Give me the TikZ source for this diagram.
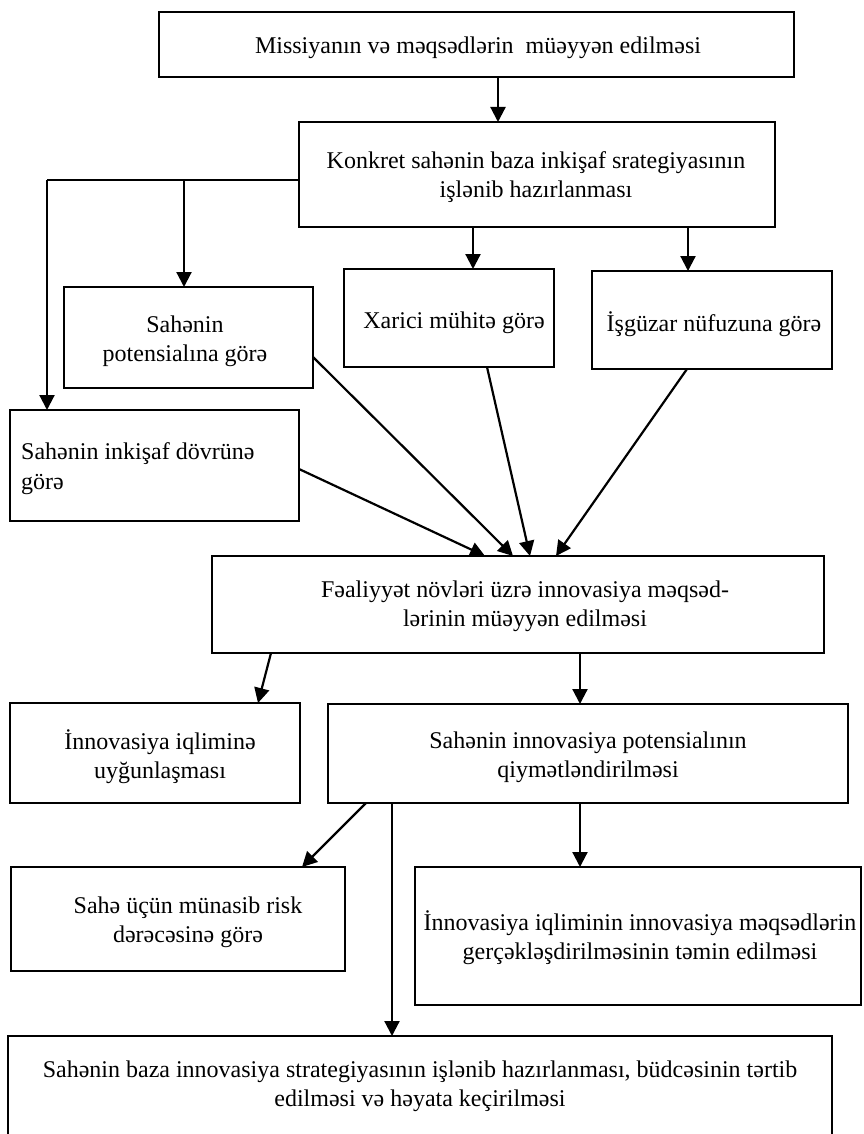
\documentclass[tikz,border=0pt]{standalone}
\usepackage{fontspec}
\setmainfont{Liberation Serif}
\usetikzlibrary{arrows.meta,fit}
\begin{document}
\begin{tikzpicture}[x=1pt,y=-1pt,
  bx/.style={draw, line width=2.4pt, inner sep=0pt, outer sep=0pt},
  txt/.style={font=\fontsize{24}{29}\selectfont, align=center, inner sep=0pt},
  txtl/.style={font=\fontsize{24}{30}\selectfont, align=left, inner sep=0pt},
  arr/.style={line width=2.2pt, -{Triangle[length=15pt,width=15pt]}},
  ln/.style={line width=2.2pt}]
\useasboundingbox (0,0) rectangle (863,1134);
\clip (0,0) rectangle (863,1134);
% boxes
\node[bx, fit={(159,12) (794,77)}] (b1) {};
\node[bx, fit={(299,122) (775,227)}] (b2) {};
\node[bx, fit={(64,287) (313,388)}] (b3) {};
\node[bx, fit={(344,269) (554,367)}] (b4) {};
\node[bx, fit={(592,271) (832,369)}] (b5) {};
\node[bx, fit={(10,410) (299,521)}] (b6) {};
\node[bx, fit={(212,556) (824,653)}] (b7) {};
\node[bx, fit={(10,703) (300,803)}] (b8) {};
\node[bx, fit={(328,704) (848,803)}] (b9) {};
\node[bx, fit={(11,867) (345,971)}] (b10) {};
\node[bx, fit={(415,867) (861,1005)}] (b11) {};
\node[bx, fit={(8,1036) (832,1150)}] (b12) {};
% texts
\node[txt] (t1) at (478,47.4) {Missiyanın və məqsədlərin \ müəyyən edilməsi};
\node[txt] (t2) at (536,177) {Konkret sahənin baza inkişaf srategiyasının\\işlənib hazırlanması};
\node[txt] (t3) at (185,341) {Sahənin\\potensialına görə};
\node[txt] (t4) at (454,322.4) {Xarici mühitə görə};
\node[txt] (t5) at (714,324) {İşgüzar nüfuzuna görə};
\node[txtl, anchor=west] (t6) at (21,469) {Sahənin inkişaf dövrünə\\görə};
\node[txt] (t7) at (525,606.4) {Fəaliyyət növləri üzrə innovasiya məqsəd-\\lərinin müəyyən edilməsi};
\node[txt] (t8) at (160,757) {İnnovasiya iqliminə\\uyğunlaşması};
\node[txt] (t9) at (588,757) {Sahənin innovasiya potensialının\\qiymətləndirilməsi};
\node[txt] (t10) at (188,922) {Sahə üçün münasib risk\\dərəcəsinə görə};
\node[txt] (t11) at (640,938) {İnnovasiya iqliminin innovasiya məqsədlərin\\gerçəkləşdirilməsinin təmin edilməsi};
\node[txt] (t12) at (420,1086) {Sahənin baza innovasiya strategiyasının işlənib hazırlanması, büdcəsinin tərtib\\edilməsi və həyata keçirilməsi};
% connectors
\draw[arr] (498,0 |- b1.south) -- (498,0 |- b2.north);
\draw[ln] (b2.west |- 0,180) -- (47,180);
\draw[arr] (47,180) -- (47,0 |- b6.north);
\draw[arr] (184,180) -- (184,0 |- b3.north);
\draw[arr] (473,0 |- b2.south) -- (473,0 |- b4.north);
\draw[arr] (688,0 |- b2.south) -- (688,0 |- b5.north);
\draw[arr] (b6.east |- 0,469) -- (485,0 |- b7.north);
\draw[arr] (b3.east |- 0,357) -- (513,0 |- b7.north);
\draw[arr] (487,0 |- b4.south) -- (530,0 |- b7.north);
\draw[arr] (687,0 |- b5.south) -- (556,0 |- b7.north);
\draw[arr] (271,0 |- b7.south) -- (258,0 |- b8.north);
\draw[arr] (580,0 |- b7.south) -- (580,0 |- b9.north);
\draw[arr] (366,0 |- b9.south) -- (302,0 |- b10.north);
\draw[arr] (580,0 |- b9.south) -- (580,0 |- b11.north);
\draw[arr] (392,0 |- b9.south) -- (392,0 |- b12.north);
\end{tikzpicture}
\end{document}
